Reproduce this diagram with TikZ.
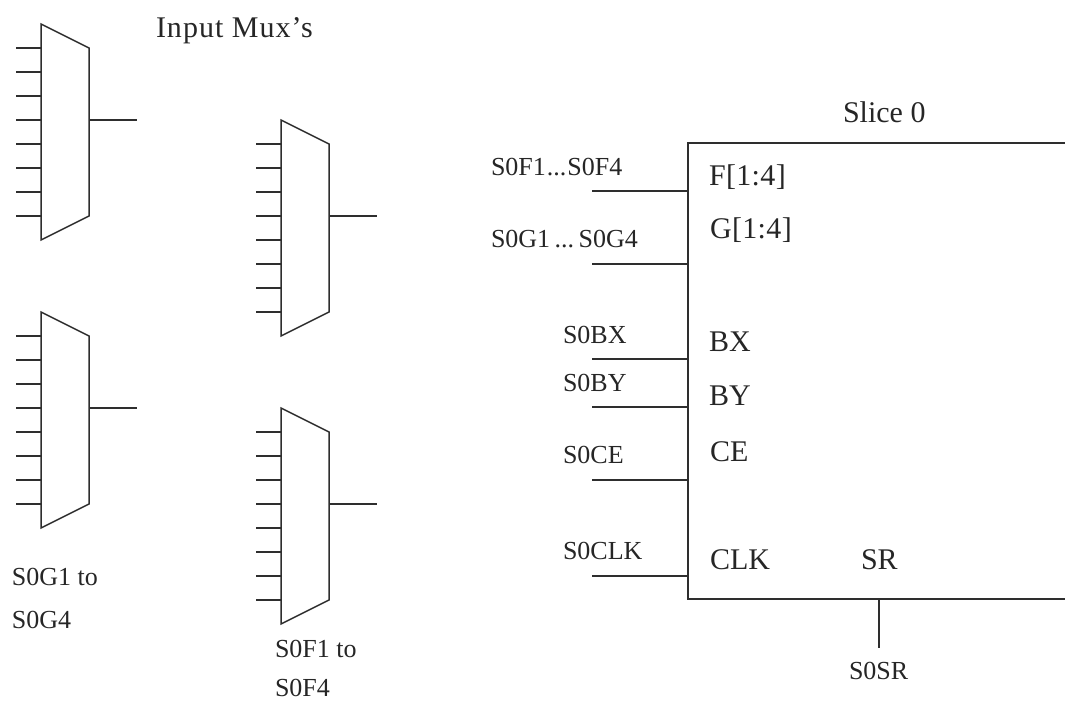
\documentclass[tikz,border=0pt]{standalone}
\usepackage{fontspec}
\setmainfont{Liberation Serif}
\newcommand{\muxunit}[3]{%
  % #1 name, #2 left x, #3 top y
  \coordinate (#1a) at (#2,#3);
  \coordinate (#1b) at (#2+48,#3+24);
  \coordinate (#1c) at (#2+48,#3+192);
  \coordinate (#1d) at (#2,#3+216);
  \draw[wire,line join=miter] (#1a) -- (#1b) -- (#1c) -- (#1d) -- cycle;
  \foreach \k in {1,...,8}{
    \coordinate (#1in\k) at (#2-25,#3+24*\k);
    \draw[wire] (#1in\k) -- (#1in\k -| #1a);
  }
  \coordinate (#1out) at (#2+96,#3+96);
  \draw[wire] (#1out -| #1b) -- (#1out);
}
\tikzset{
  wire/.style={line width=1.5pt,draw=black!82},
  lab/.style={anchor=base west,inner sep=0pt,outer sep=0pt,text=black!85},
  small/.style={lab,font=\fontsize{26}{30}\selectfont},
  big/.style={lab,font=\fontsize{30}{34}\selectfont},
  bigwide/.style={lab,font=\fontsize{30}{34}\selectfont\addfontfeature{LetterSpace=1.2}},
  titlefont/.style={lab,font=\fontsize{30}{34}\selectfont\addfontfeature{LetterSpace=3.4}},
}
\begin{document}
\begin{tikzpicture}[x=1pt,y=-1pt]
\useasboundingbox (0,0) rectangle (1065,702);
\muxunit{ma}{41}{24}
\muxunit{mb}{281}{120}
\muxunit{mc}{41}{312}
\muxunit{md}{281}{408}
\node[titlefont] (title) at (156,37) {Input Mux’s};
\node[small] (lg1) at (12,585) {S0G1 to};
\node[small] (lg2) at (12,628) {S0G4};
\node[small] (lf1) at (275,657) {S0F1 to};
\node[small] (lf2) at (275,696) {S0F4};
% slice block
\coordinate (tr) at (1065,143);
\coordinate (tl) at (688,143);
\coordinate (bl) at (688,599);
\coordinate (br) at (1065,599);
\draw[wire,line join=miter] (tr) -- (tl) -- (bl) -- (br);
\foreach \n/\y in {f/191,g/264,bx/359,by/407,ce/480,clk/576}{
  \coordinate (w\n) at (592,\y);
  \draw[wire] (w\n) -- (w\n -| tl);
}
\coordinate (srend) at (879,648);
\draw[wire] (srend |- bl) -- (srend);
\node[big] (slice) at (843,122) {Slice 0};
\node[small] (n1) at (491,175) {S0F1\hspace{1pt}...\hspace{1pt}S0F4};
\node[small] (n2) at (491,247) {S0G1\hspace{4.5pt}...\hspace{4.5pt}S0G4};
\node[small] (n3) at (563,343) {S0BX};
\node[small] (n4) at (563,391) {S0BY};
\node[small] (n5) at (563,463) {S0CE};
\node[small] (n6) at (563,559) {S0CLK};
\node[small] (n7) at (849,679) {S0SR};
\node[bigwide] (p1) at (709,185) {F[1:4]};
\node[bigwide] (p2) at (710,238) {G[1:4]};
\node[big] (p3) at (709,351) {BX};
\node[big] (p4) at (709,405) {BY};
\node[big] (p5) at (710,461) {CE};
\node[big] (p6) at (710,569) {CLK};
\node[big] (p7) at (861,569) {SR};
\end{tikzpicture}
\end{document}
